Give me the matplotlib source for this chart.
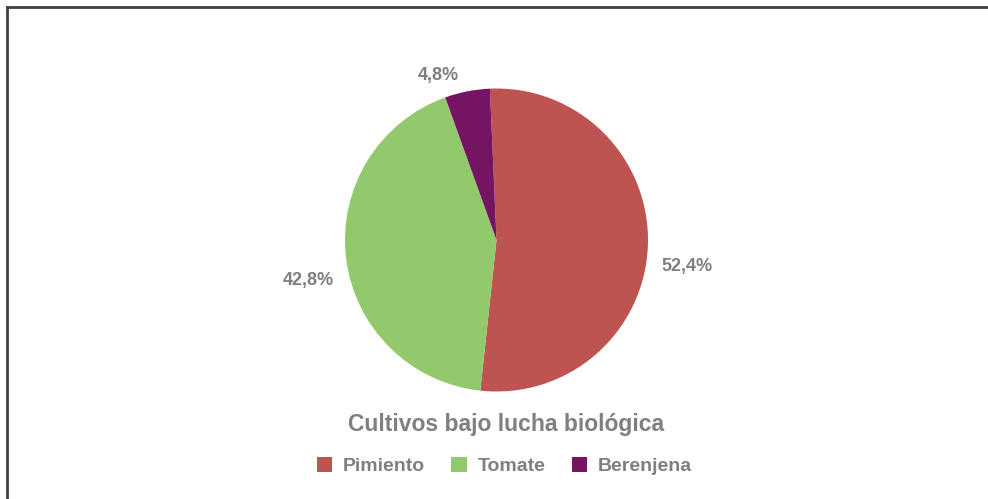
import numpy as np
import matplotlib.pyplot as plt

# data
cultivos = ["Pimiento", "Tomate", "Berenjena"]
porcentajes = [52.4, 42.8, 4.8]
colores = ["#BE5451", "#93C96D", "#751462"]
etiquetas = ["52,4%", "42,8%", "4,8%"]

GRIS = "#7F7F7F"

# label placement tweaks (angle offset in degrees, radial distance)
AJUSTE_ANG = [-6.2, 5.2, 8.4]
AJUSTE_DIST = [1.27, 1.27, 1.155]

plt.rcParams["font.family"] = ["Liberation Sans", "DejaVu Sans"]

W, H = 988, 499
fig = plt.figure(figsize=(W / 100, H / 100), dpi=100)

# pie axes placed in pixels
cx, cy, r = 496.5, 240, 151.5
ax = fig.add_axes([(cx - r) / W, (H - cy - r) / H, 2 * r / W, 2 * r / H])
wedges, texts = ax.pie(
    porcentajes,
    colors=colores,
    labels=etiquetas,
    startangle=92.5,
    counterclock=False,
    textprops={"color": GRIS, "fontsize": 13, "fontweight": "bold"},
)
ax.set_xlim(-1, 1)
ax.set_ylim(-1, 1)
ax.set_aspect("equal")

for w, t, da, d in zip(wedges, texts, AJUSTE_ANG, AJUSTE_DIST):
    ang = np.deg2rad((w.theta1 + w.theta2) / 2 + da)
    t.set_position((d * np.cos(ang), d * np.sin(ang)))
    t.set_ha("center")
    t.set_va("center")

fig.text((cx + 10) / W, (H - 425) / H, "Cultivos bajo lucha biológica",
         ha="center", va="center", color=GRIS, fontsize=16.5, fontweight="bold")

fig.legend(wedges, cultivos, loc="center", bbox_to_anchor=((cx + 8) / W, (H - 466) / H),
           ncol=3, frameon=False, handlelength=0.8, handleheight=0.8,
           handletextpad=0.55, columnspacing=1.35,
           prop={"size": 14, "weight": "bold"}, labelcolor=GRIS)

# frame lines: top and left only
fig.add_artist(plt.Line2D([6.5 / W, 1], [1 - 6.5 / H] * 2, color="#404040", lw=2))
fig.add_artist(plt.Line2D([6.5 / W] * 2, [0, 1 - 6.5 / H], color="#404040", lw=2))

fig.savefig("out.png", dpi=100)
